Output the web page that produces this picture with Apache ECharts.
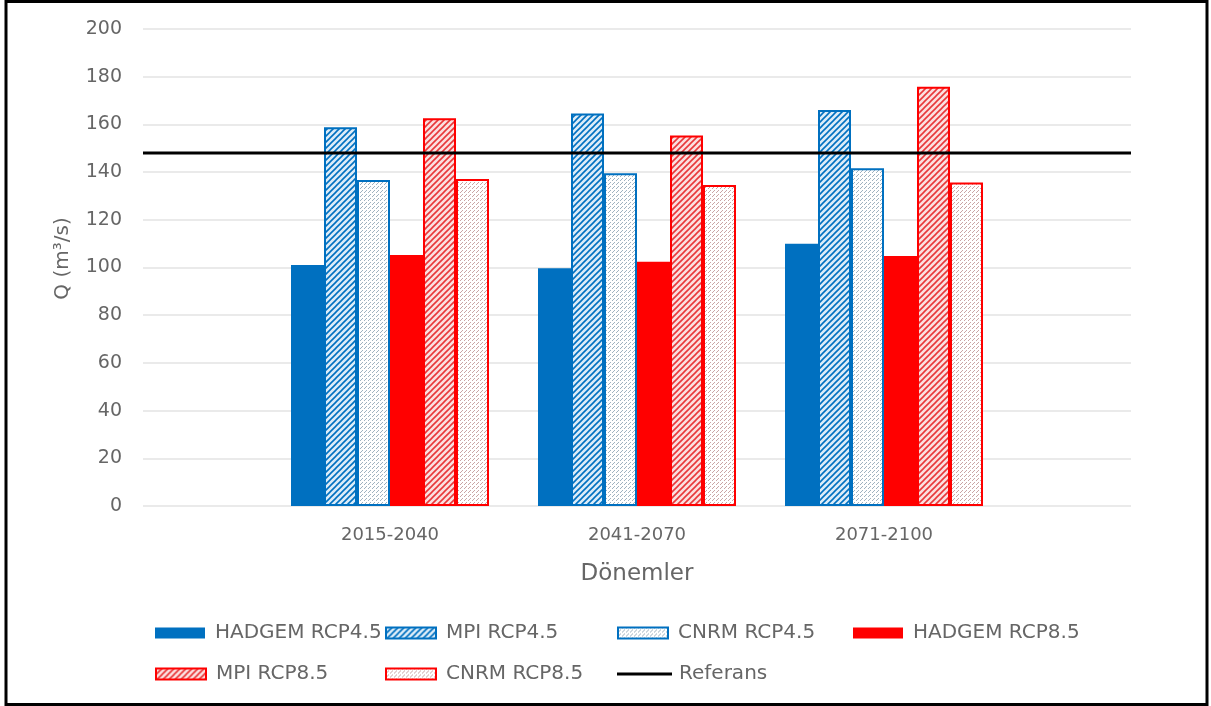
<!DOCTYPE html>
<html>
<head>
<meta charset="utf-8">
<title>Q (m3/s) - Dönemler</title>
<script src="https://cdn.jsdelivr.net/npm/echarts@6.0.0/dist/echarts.min.js"></script>
<style>
  html, body { margin: 0; padding: 0; background: #fff; }
  #main { width: 1211px; height: 706px; }
</style>
</head>
<body>
<div id="main"></div>
<script>
// veriler
var donemler = ['2015-2040', '2041-2070', '2071-2100'];
var hadgem45 = [101, 99.7, 110];
var mpi45 = [158.8, 164.6, 166];
var cnrm45 = [136.7, 139.5, 141.6];
var hadgem85 = [105.2, 102.4, 104.8];
var mpi85 = [162.6, 155.3, 175.8];
var cnrm85 = [137.1, 134.6, 135.6];
var referans = 148;
var yTicks = [0, 20, 40, 60, 80, 100, 120, 140, 160, 180, 200];

var BLUE = '#0070C0';
var RED = '#FF0000';
var FONT = 'DejaVu Sans';
var GRAY = '#666666';

// tarama desenleri (canvas)
function hatch(color, bg) {
    var c = document.createElement('canvas');
    c.width = 6; c.height = 6;
    var ctx = c.getContext('2d');
    ctx.fillStyle = bg;
    ctx.fillRect(0, 0, 6, 6);
    ctx.strokeStyle = color;
    ctx.lineWidth = 1.6;
    ctx.beginPath();
    ctx.moveTo(-3, 3); ctx.lineTo(3, -3);
    ctx.moveTo(0, 6); ctx.lineTo(6, 0);
    ctx.moveTo(3, 9); ctx.lineTo(9, 3);
    ctx.stroke();
    return c;
}
function dots(color) {
    var c = document.createElement('canvas');
    c.width = 4; c.height = 4;
    var ctx = c.getContext('2d');
    ctx.fillStyle = '#ffffff';
    ctx.fillRect(0, 0, 4, 4);
    ctx.fillStyle = color;
    ctx.fillRect(0, 0, 1, 1);
    ctx.fillRect(2, 2, 1, 1);
    ctx.fillRect(1, 3, 1, 1);
    return c;
}

// kenarlara bos kategori ekle (Excel'deki gibi bosluk)
var xData = [''].concat(donemler).concat(['']);
function pad(arr) { return ['-'].concat(arr).concat(['-']); }

function barSeries(name, data, fill, border) {
    return {
        name: name,
        type: 'bar',
        data: pad(data),
        barWidth: 33,
        barGap: '0%',
        itemStyle: {
            color: fill,
            borderColor: border,
            borderWidth: border ? 2 : 0
        }
    };
}

var myChart = echarts.init(document.getElementById('main'));

var legendPos = [
    ['HADGEM RCP4.5', 155, 623], ['MPI RCP4.5', 385, 623], ['CNRM RCP4.5', 617, 623], ['HADGEM RCP8.5', 853, 623],
    ['MPI RCP8.5', 155, 664], ['CNRM RCP8.5', 385, 664], ['Referans', 617, 664]
];

var option = {
    animation: false,
    backgroundColor: '#fff',
    textStyle: { fontFamily: FONT },
    graphic: [{
        type: 'rect',
        shape: { x: 6, y: 1.5, width: 1201, height: 703 },
        style: { fill: 'none', stroke: '#000', lineWidth: 3 },
        silent: true
    }],
    grid: { left: 143, right: 80, top: 29, bottom: 200 },
    legend: legendPos.map(function (p) {
        var isLine = p[0] === 'Referans';
        return {
            data: [{ name: p[0], icon: 'rect' }],
            left: p[1],
            top: p[2],
            padding: 0,
            itemWidth: isLine ? 55 : 50,
            itemHeight: isLine ? 3 : 11,
            textStyle: { fontFamily: FONT, fontSize: 20, color: GRAY, padding: [0, 0, 0, isLine ? 2 : 5] }
        };
    }),
    xAxis: {
        type: 'category',
        data: xData,
        boundaryGap: false,
        name: 'Dönemler',
        nameLocation: 'middle',
        nameGap: 57,
        nameTextStyle: { fontFamily: FONT, fontSize: 23, color: GRAY },
        axisLine: { show: false },
        axisTick: { show: false },
        axisLabel: { fontFamily: FONT, fontSize: 18, color: GRAY, margin: 20, interval: 0 }
    },
    yAxis: {
        type: 'value',
        min: yTicks[0],
        max: yTicks[yTicks.length - 1],
        interval: 20,
        name: 'Q (m³/s)',
        nameLocation: 'middle',
        nameGap: 70,
        nameTextStyle: { fontFamily: FONT, fontSize: 20, color: GRAY, padding: [0, 0, 0, 18] },
        axisLine: { show: false },
        axisTick: { show: false },
        axisLabel: { fontFamily: FONT, fontSize: 19, color: GRAY, margin: 21 },
        splitLine: { lineStyle: { color: '#e3e3e3', width: 1.5 } }
    },
    series: [
        barSeries('HADGEM RCP4.5', hadgem45, BLUE, null),
        barSeries('MPI RCP4.5', mpi45, { image: hatch(BLUE, '#dcecf8'), repeat: 'repeat' }, BLUE),
        barSeries('CNRM RCP4.5', cnrm45, { image: dots('#9fb2c0'), repeat: 'repeat' }, BLUE),
        barSeries('HADGEM RCP8.5', hadgem85, RED, null),
        barSeries('MPI RCP8.5', mpi85, { image: hatch('#e8383a', '#fbe0e0'), repeat: 'repeat' }, RED),
        barSeries('CNRM RCP8.5', cnrm85, { image: dots('#c9a5a5'), repeat: 'repeat' }, RED),
        {
            name: 'Referans',
            type: 'line',
            data: xData.map(function () { return referans; }),
            symbol: 'none',
            lineStyle: { color: '#000', width: 3 },
            itemStyle: { color: '#000' },
            z: 5
        }
    ]
};

myChart.setOption(option);
</script>
</body>
</html>
